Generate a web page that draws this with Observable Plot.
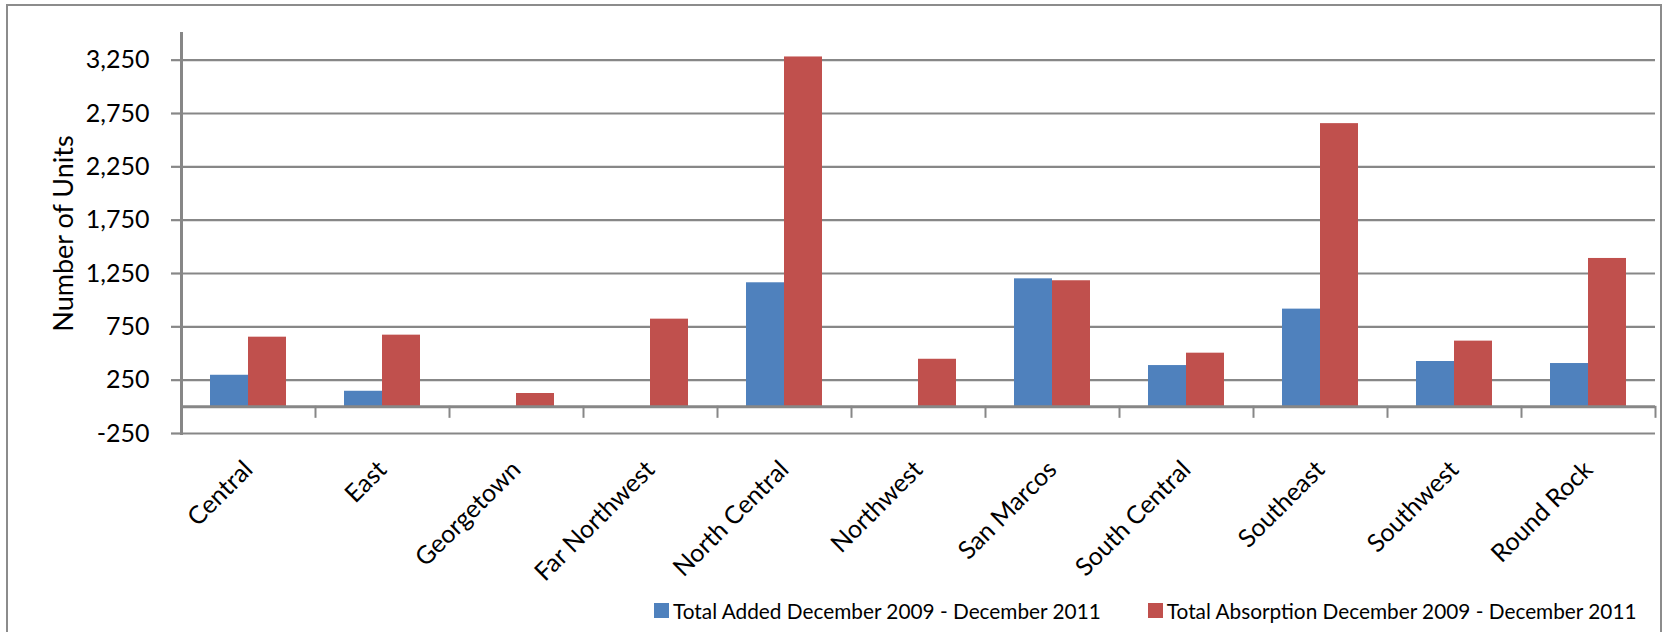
<!DOCTYPE html>
<html>
<head>
<meta charset="utf-8">
<script src="https://cdn.jsdelivr.net/npm/d3@7"></script>
<script src="https://cdn.jsdelivr.net/npm/@observablehq/plot@0.6"></script>
<style>
  html, body { margin: 0; padding: 0; background: #fff; }
  #wrap { position: relative; width: 1671px; height: 632px; overflow: hidden; font-family: Lato, "Open Sans", sans-serif; }
  #border { position: absolute; left: 6px; top: 4px; width: 1656px; height: 700px; border: 2px solid #8c8c8c; box-sizing: border-box; }
  #chart { position: absolute; left: 0; top: 0; }
  #legend { position: absolute; left: 654px; top: 598px; display: flex; gap: 47px; font-size: 20.8px; color: #000; white-space: nowrap; }
  .item { display: flex; align-items: center; }
  .sw { width: 15px; height: 15px; margin-right: 4px; }
</style>
</head>
<body>
<div id="wrap">
  <div id="border"></div>
  <div id="chart"></div>
  <div id="legend"></div>
</div>
<script>
// ---- data ----
const regions = ["Central", "East", "Georgetown", "Far Northwest", "North Central", "Northwest", "San Marcos", "South Central", "Southeast", "Southwest", "Round Rock"];
const seriesNames = ["Total Added December 2009 - December 2011", "Total Absorption December 2009 - December 2011"];
const totalAdded = [296, 146, 0, 0, 1163, 0, 1200, 387, 916, 425, 406];
const totalAbsorption = [653, 672, 125, 822, 3280, 446, 1182, 503, 2655, 616, 1391];
const yTicks = [-250, 250, 750, 1250, 1750, 2250, 2750, 3250];
const colors = ["#4F81BD", "#C0504D"];

const rows = [];
regions.forEach((r, i) => {
  rows.push({region: r, series: seriesNames[0], value: totalAdded[i]});
  rows.push({region: r, series: seriesNames[1], value: totalAbsorption[i]});
});

const W = 1671, H = 590, mt = 33, mb = 157, ml = 180, mr = 16;
const yDomain = [-250, 3500];
const yPix = d3.scaleLinear(yDomain, [H - mb, mt]);
const axisGray = "#878787";

const chart = Plot.plot({
  width: W, height: H,
  marginTop: mt, marginBottom: mb, marginLeft: ml, marginRight: mr,
  style: {fontFamily: "Lato, 'Open Sans', sans-serif", fontSize: "25px", color: "#000", background: "transparent"},
  fx: {domain: regions, padding: 0},
  x: {domain: seriesNames, paddingInner: 0, paddingOuter: 0.763, axis: null},
  y: {domain: yDomain},
  color: {domain: seriesNames, range: colors},
  marks: [
    Plot.gridY(yTicks, {stroke: axisGray, strokeWidth: 2.2, strokeOpacity: 1}),
    Plot.axisY(yTicks, {tickSize: 10, tickPadding: 22, tickFormat: d => d.toLocaleString("en-US"), stroke: axisGray, strokeWidth: 2.2,
      fontSize: 25, label: null}),
    Plot.axisY(yTicks, {tickSize: 0, text: null, fontSize: 27, label: "Number of Units", labelArrow: "none", labelAnchor: "center", labelOffset: 128}),
    Plot.barY(rows, {fx: "region", x: "series", y: "value", fill: "series"}),
    Plot.ruleY([0], {stroke: axisGray, strokeWidth: 3}),
    Plot.frame({anchor: "left", facetAnchor: "left", stroke: axisGray, strokeWidth: 3}),
    Plot.frame({anchor: "right", stroke: axisGray, strokeWidth: 2,
      insetTop: yPix(0) - mt, insetBottom: (H - mb) - yPix(0) - 10}),
    Plot.axisFx({anchor: "bottom", tickRotate: -45, tickSize: 0, tickPadding: 32, fontSize: 25, label: null})
  ]
});
document.getElementById("chart").appendChild(chart);

const legend = document.getElementById("legend");
seriesNames.forEach((s, i) => {
  const item = document.createElement("div");
  item.className = "item";
  const sw = document.createElement("span");
  sw.className = "sw";
  sw.style.background = colors[i];
  const t = document.createElement("span");
  t.textContent = s;
  item.appendChild(sw);
  item.appendChild(t);
  legend.appendChild(item);
});
</script>
</body>
</html>
